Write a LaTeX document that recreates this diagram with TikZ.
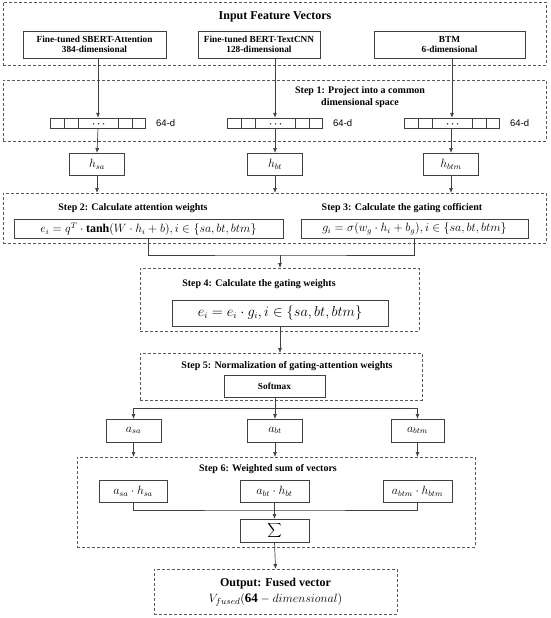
\documentclass[tikz,border=0pt]{standalone}
\usepackage{fontspec}
\setmainfont{Liberation Serif}
\newfontfamily\lsans{Liberation Sans}
\usetikzlibrary{arrows.meta,calc}
\begin{document}
\begin{tikzpicture}[x=1pt,y=-1pt,
  lc/.style={draw=black!75,line width=0.7pt},
  arr/.style={lc,-{Latex[length=5pt,width=4pt]}},
  grp/.style={draw=black!65,dash pattern=on 3pt off 2pt,line width=0.7pt,inner sep=0,outer sep=0},
  bx/.style={draw=black!75,line width=0.7pt,inner sep=0,outer sep=0,align=center},
  lbl/.style={font=\bfseries\fontsize{10}{11.5}\selectfont,align=center,inner sep=0},
  mlbl/.style={font=\bfseries\fontsize{9.3}{10.5}\selectfont,align=center},
  cell/.style={draw=black!75,line width=0.6pt,inner sep=0,outer sep=0,minimum height=10pt},
  mth/.style={font=\fontsize{12}{13}\selectfont}
]
\useasboundingbox (0,0) rectangle (550,618);

% Input group
\node[grp,minimum width=543pt,minimum height=63pt] (gin) at (274.5,33.5) {};
\node[font=\bfseries\fontsize{12}{14}\selectfont,inner sep=0] (tin) at (275,17) {Input Feature Vectors};
\node[bx,mlbl,minimum width=143pt,minimum height=27pt] (m1) at (94.5,44.5) {Fine-tuned SBERT-Attention\\384-dimensional};
\node[bx,mlbl,minimum width=122pt,minimum height=27pt] (m2) at (259,44.5) {Fine-tuned BERT-TextCNN\\128-dimensional};
\node[bx,mlbl,minimum width=151pt,minimum height=27pt] (m3) at (449.5,44.5) {BTM\\6-dimensional};

% Step 1
\node[grp,minimum width=543pt,minimum height=61pt] (g1) at (274.5,110.5) {};
\node[lbl] (t1) at (360,97) {Step 1: Project into a common\\dimensional space};

\foreach \i/\cx in {1/98,2/275,3/452}{
  \begin{scope}[shift={(\cx-47.5,123)}]
    \node[cell,minimum width=14pt] at (7,0) {};
    \node[cell,minimum width=14pt] at (21,0) {};
    \node[cell,minimum width=40pt] at (48,0) {};
    \node[cell,minimum width=14pt] at (75,0) {};
    \node[cell,minimum width=13pt] at (88.5,0) {};
    \foreach \dx in {-5,0,5} \fill[black!80] (48+\dx,0.8) circle (0.8pt);
  \end{scope}
  \node[inner sep=0,minimum width=95pt,minimum height=10pt] (v\i) at (\cx,123) {};
  \node[font=\lsans\fontsize{9.5}{10}\selectfont,anchor=west,inner sep=0] (d\i) at (\cx+58,123) {64-d};
}

% h boxes
\node[bx,minimum width=55pt,minimum height=22pt,mth] (h1) at (97,164) {$h_{sa}$};
\node[bx,minimum width=55pt,minimum height=22pt,mth] (h2) at (275,164) {$h_{bt}$};
\node[bx,minimum width=55pt,minimum height=22pt,mth] (h3) at (451,164) {$h_{btm}$};

% Step 2/3
\node[grp,minimum width=543pt,minimum height=50pt] (g23) at (274.5,218) {};
\node[lbl] (t2) at (133,208) {Step 2: Calculate attention weights};
\node[lbl] (t3) at (402,208) {Step 3: Calculate the gating cofficient};
\node[bx,minimum width=269pt,minimum height=19pt,mth] (f1) at (148.5,229) {$e_i=q^T\cdot\mathbf{tanh}(W\cdot h_i+b),i\in\{sa,bt,btm\}$};
\node[bx,minimum width=227pt,minimum height=19pt,mth] (f2) at (414.5,229) {$g_i=\sigma(w_g\cdot h_i+b_g),i\in\{sa,bt,btm\}$};
\coordinate (j1) at (280,255);

% Step 4
\node[grp,minimum width=279pt,minimum height=63pt] (g4) at (279.5,299.5) {};
\node[lbl] (t4) at (259,284) {Step 4: Calculate the gating weights};
\node[bx,minimum width=216pt,minimum height=26pt,font=\fontsize{13.5}{14}\selectfont] (f4) at (280,313) {$e_i=e_i\cdot g_i,i\in\{sa,bt,btm\}$};

% Step 5
\node[grp,minimum width=282pt,minimum height=47pt] (g5) at (281,376.5) {};
\node[lbl] (t5) at (287,366) {Step 5: Normalization of gating-attention weights};
\node[bx,mlbl,minimum width=101pt,minimum height=22pt] (sm) at (274.5,386) {Softmax};
\coordinate (j2) at (275,408);

% a boxes
\node[bx,minimum width=55pt,minimum height=23pt,mth] (a1) at (133.5,430.5) {$a_{sa}$};
\node[bx,minimum width=55pt,minimum height=23pt,mth] (a2) at (275,430.5) {$a_{bt}$};
\node[bx,minimum width=53pt,minimum height=23pt,mth] (a3) at (417.5,430.5) {$a_{btm}$};

% Step 6
\node[grp,minimum width=398pt,minimum height=90pt] (g6) at (276,502) {};
\node[lbl] (t6) at (268,469) {Step 6: Weighted sum of vectors};
\node[bx,minimum width=68pt,minimum height=22pt,mth] (p1) at (133,491) {$a_{sa}\cdot h_{sa}$};
\node[bx,minimum width=69pt,minimum height=22pt,mth] (p2) at (274.5,491) {$a_{bt}\cdot h_{bt}$};
\node[bx,minimum width=69pt,minimum height=22pt,mth] (p3) at (417.5,491) {$a_{btm}\cdot h_{btm}$};
\coordinate (j3) at (274.5,510);
\node[bx,minimum width=69pt,minimum height=23pt,font=\fontsize{12}{13}\selectfont] (sg) at (274.5,530.5) {$\displaystyle\sum$};

% Output
\node[grp,minimum width=243pt,minimum height=45pt] (out) at (275.5,591.5) {};
\node[font=\bfseries\fontsize{12}{14}\selectfont,inner sep=0] (to) at (275.5,584) {Output: Fused vector};
\node[inner sep=0,font=\fontsize{13}{14}\selectfont] (to2) at (275.5,600) {$V_{fused}(\mathbf{64}-dimensional)$};

% connectors
\draw[arr] (v1.north |- m1.south) -- (v1.north);
\draw[arr] (v2.north |- m2.south) -- (v2.north);
\draw[arr] (v3.north |- m3.south) -- (v3.north);
\draw[arr] (v1.south) -- (h1.north);
\draw[arr] (v2.south) -- (h2.north);
\draw[arr] (v3.south -| h3.north) -- (h3.north);
\draw[arr] (h1.south) -- (h1.south |- g23.north);
\draw[arr] (h2.south) -- (h2.south |- g23.north);
\draw[arr] (h3.south) -- (h3.south |- g23.north);
\draw[lc] (f1.south) |- (j1) -| (f2.south);
\draw[arr] (j1) -- (j1 |- g4.north);
\draw[arr] (f4.south) -- (f4.south |- g5.north);
\draw[lc] (sm.south -| j2) -- (j2);
\draw[lc] (a1.north |- j2) -- (a3.north |- j2);
\draw[arr] (a1.north |- j2) -- (a1.north);
\draw[arr] (j2) -- (a2.north);
\draw[arr] (a3.north |- j2) -- (a3.north);
\draw[arr] (a1.south) -- (a1.south |- g6.north);
\draw[arr] (a2.south) -- (a2.south |- g6.north);
\draw[arr] (a3.south) -- (a3.south |- g6.north);
\draw[lc] (p1.south) |- (j3) -| (p3.south);
\draw[arr] (p2.south) -- (sg.north);
\draw[arr] (sg.south) -- (out.north);
\end{tikzpicture}
\end{document}
